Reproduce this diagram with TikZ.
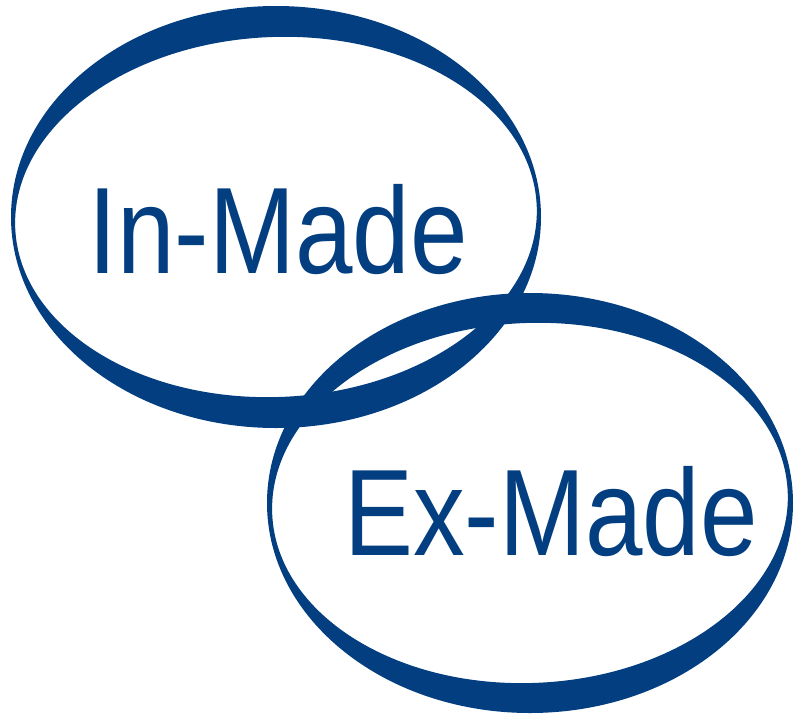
\documentclass[tikz,border=0pt]{standalone}
\usepackage{fontspec}
\setmainfont{Liberation Sans}
\definecolor{ringblue}{RGB}{2,62,128}
\tikzset{
  ringfill/.style={fill=ringblue, even odd rule},
  label/.style={text=ringblue, inner sep=0pt, anchor=base, font=\fontsize{123}{123}\selectfont}
}
\begin{document}
\begin{tikzpicture}[x=1pt,y=-1pt]
\useasboundingbox (0,0) rectangle (796,713);
% ring 1
\coordinate (c1) at (276,217);
\fill[ringfill] (c1) ellipse [x radius=265, y radius=211]
  {[rotate around={2.5:(c1)}] (c1) ellipse [x radius=261, y radius=180]};
% ring 2
\coordinate (c2) at (530,503);
\fill[ringfill] (c2) ellipse [x radius=263, y radius=210]
  {[rotate around={2.5:(c2)}] (c2) ellipse [x radius=258, y radius=180]};
\node[label] (inmade) at (278,273) {\scalebox{0.84}[1]{In-Made}};
\node[label] (exmade) at (551,555) {\scalebox{0.84}[1]{Ex-Made}};
\end{tikzpicture}
\end{document}
